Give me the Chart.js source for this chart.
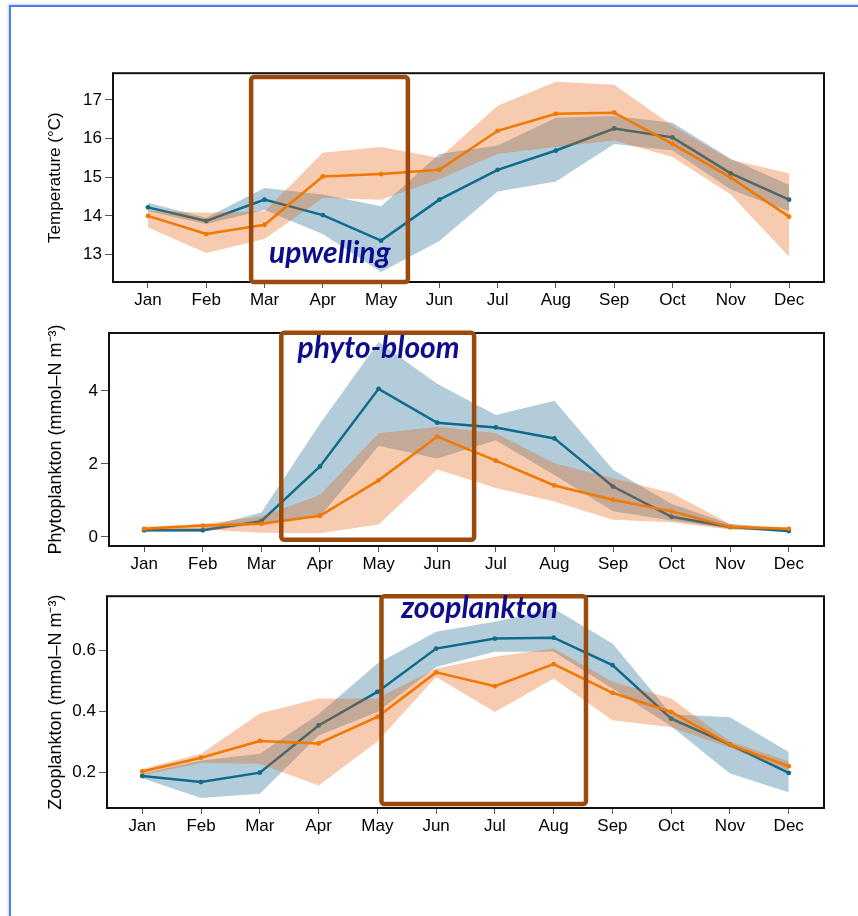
<!DOCTYPE html>
<html>
<head>
<meta charset="utf-8">
<script src="https://cdn.jsdelivr.net/npm/chart.js@4.4.0/dist/chart.umd.min.js"></script>
<style>
    body { margin: 0; width: 858px; height: 916px; background: #fff; position: relative; overflow: hidden; }
    .frame { position: absolute; left: 9px; top: 5px; width: 900px; height: 950px;
             border-left: 2px solid #4a7cf6; border-top: 2px solid #4a7cf6; box-shadow: -1px -1px 2px #c8d4f0; }
    canvas { position: absolute; left: 36px; }
</style>
</head>
<body>
<div class="frame"></div>
<canvas id="tempChart" width="804" height="252" style="top:60px"></canvas>
<canvas id="phytoChart" width="804" height="258" style="top:318px"></canvas>
<canvas id="zooChart" width="804" height="255" style="top:583px"></canvas>

<script>
// Month labels
const months = ['Jan', 'Feb', 'Mar', 'Apr', 'May', 'Jun', 'Jul', 'Aug', 'Sep', 'Oct', 'Nov', 'Dec'];

// Temperature (°C)
const tempBlue     = [14.22, 13.87, 14.42, 14.02, 13.36, 14.42, 15.19, 15.69, 16.26, 16.03, 15.10, 14.42];
const tempBlueHi   = [14.34, 13.95, 14.72, 14.55, 14.25, 15.60, 15.82, 16.54, 16.58, 16.41, 15.48, 14.80];
const tempBlueLo   = [14.12, 13.79, 14.15, 13.53, 12.55, 13.35, 14.63, 14.89, 15.86, 15.69, 14.68, 14.12];
const tempOrange   = [14.00, 13.53, 13.77, 15.02, 15.08, 15.19, 16.20, 16.64, 16.67, 15.86, 14.99, 13.98];
const tempOrangeHi = [14.14, 14.08, 14.12, 15.63, 15.78, 15.50, 16.85, 17.47, 17.39, 16.33, 15.45, 15.10];
const tempOrangeLo = [13.70, 13.04, 13.40, 14.46, 14.42, 14.95, 15.61, 15.78, 15.95, 15.52, 14.55, 12.94];
const tempTicks    = [13, 14, 15, 16, 17];

// Phytoplankton (mmol-N m-3)
const phytoBlue     = [0.18, 0.18, 0.43, 1.93, 4.06, 3.13, 3.00, 2.70, 1.38, 0.55, 0.27, 0.16];
const phytoBlueHi   = [0.22, 0.25, 0.67, 3.10, 5.34, 4.20, 3.34, 3.73, 1.84, 0.90, 0.35, 0.20];
const phytoBlueLo   = [0.14, 0.15, 0.36, 0.56, 2.50, 2.15, 2.65, 1.70, 0.70, 0.45, 0.22, 0.13];
const phytoOrange   = [0.22, 0.31, 0.36, 0.58, 1.55, 2.75, 2.09, 1.41, 1.02, 0.70, 0.27, 0.22];
const phytoOrangeHi = [0.28, 0.35, 0.56, 1.15, 2.84, 3.02, 2.84, 2.02, 1.61, 1.20, 0.35, 0.25];
const phytoOrangeLo = [0.16, 0.20, 0.11, 0.10, 0.34, 1.85, 1.34, 0.97, 0.47, 0.40, 0.20, 0.18];
const phytoTicks    = [0, 2, 4];

// Zooplankton (mmol-N m-3)
const zooBlue     = [0.187, 0.167, 0.198, 0.353, 0.463, 0.605, 0.638, 0.641, 0.551, 0.375, 0.290, 0.197];
const zooBlueHi   = [0.195, 0.238, 0.260, 0.390, 0.556, 0.660, 0.693, 0.737, 0.622, 0.390, 0.380, 0.266];
const zooBlueLo   = [0.180, 0.115, 0.129, 0.320, 0.397, 0.545, 0.595, 0.595, 0.474, 0.350, 0.195, 0.134];
const zooOrange   = [0.202, 0.247, 0.302, 0.294, 0.381, 0.527, 0.482, 0.554, 0.460, 0.397, 0.290, 0.219];
const zooOrangeHi = [0.210, 0.260, 0.392, 0.441, 0.441, 0.540, 0.578, 0.605, 0.496, 0.441, 0.300, 0.235];
const zooOrangeLo = [0.190, 0.230, 0.227, 0.156, 0.300, 0.512, 0.397, 0.507, 0.370, 0.347, 0.280, 0.205];
const zooTicks    = [0.2, 0.4, 0.6];

// Colours
const BLUE = '#0f6a8b';
const ORANGE = '#f07800';
const BLUE_BAND = 'rgba(17, 96, 140, 0.32)';
const ORANGE_BAND = 'rgba(230, 93, 8, 0.32)';
const BOX_BROWN = '#9a4a0c';
const NOTE_BLUE = '#0c0c8c';

const pts = arr => arr.map((v, i) => ({ x: i, y: v }));

// Frame + highlight box + note text
const framePlugin = {
    id: 'frame',
    afterDraw(chart) {
        const { ctx, chartArea: a, scales } = chart;
        const opt = chart.options.plugins.frame;
        ctx.save();
        ctx.strokeStyle = '#111';
        ctx.lineWidth = 2;
        ctx.strokeRect(a.left, a.top, a.right - a.left, a.bottom - a.top);

        // highlight box
        const b = opt.box;
        const x0 = scales.x.getPixelForValue(b.x0), x1 = scales.x.getPixelForValue(b.x1);
        const y0 = scales.y.getPixelForValue(b.y0), y1 = scales.y.getPixelForValue(b.y1);
        ctx.strokeStyle = BOX_BROWN;
        ctx.lineWidth = 4.5;
        ctx.lineJoin = 'round';
        ctx.beginPath();
        ctx.roundRect(x0, y0, x1 - x0, y1 - y0, 3);
        ctx.stroke();

        // note
        const n = opt.note;
        ctx.fillStyle = NOTE_BLUE;
        ctx.font = 'italic bold 30px Lato, "Open Sans", sans-serif';
        ctx.textAlign = 'center';
        ctx.textBaseline = 'alphabetic';
        ctx.fillText(n.text, scales.x.getPixelForValue(n.x), scales.y.getPixelForValue(n.y));
        ctx.restore();
    }
};

function createPanel(canvasId, s) {
    const ctx = document.getElementById(canvasId);
    if (!ctx) return null;

    const lineSet = (vals, color, order) => ({
        data: pts(vals), borderColor: color, backgroundColor: color,
        borderWidth: 2.5, pointRadius: 2.4, pointBorderWidth: 0, fill: false, order: order
    });
    const bandSet = (vals, fill, color, order) => ({
        data: pts(vals), borderColor: 'transparent', borderWidth: 0, pointRadius: 0,
        backgroundColor: color, fill: fill, order: order
    });

    return new Chart(ctx, {
        type: 'line',
        data: {
            datasets: [
                lineSet(s.orange, ORANGE, 0),
                bandSet(s.orangeHi, '+1', ORANGE_BAND, 1),
                bandSet(s.orangeLo, false, ORANGE_BAND, 1),
                lineSet(s.blue, BLUE, 2),
                bandSet(s.blueHi, '+1', BLUE_BAND, 3),
                bandSet(s.blueLo, false, BLUE_BAND, 3)
            ]
        },
        options: {
            responsive: false,
            animation: false,
            devicePixelRatio: 1,
            layout: { padding: { top: s.padTop, right: 16, left: 0, bottom: 0 } },
            elements: { line: { tension: 0 } },
            plugins: {
                legend: { display: false },
                tooltip: { enabled: false },
                frame: { box: s.box, note: s.note }
            },
            scales: {
                x: {
                    type: 'linear',
                    min: -0.6,
                    max: 11.6,
                    afterBuildTicks: sc => { sc.ticks = months.map((m, i) => ({ value: i })); },
                    afterFit: sc => { sc.height = 30; },
                    border: { display: false },
                    grid: { drawOnChartArea: false, drawTicks: true, tickLength: 6, color: '#555' },
                    ticks: {
                        autoSkip: false, maxRotation: 0, padding: 2, color: '#000',
                        font: { family: '"Liberation Sans", Arial, sans-serif', size: 17 },
                        callback: v => months[v]
                    }
                },
                y: {
                    min: s.yMin,
                    max: s.yMax,
                    afterBuildTicks: sc => { sc.ticks = s.ticks.map(v => ({ value: v })); },
                    afterFit: sc => { sc.width = s.axisW; },
                    border: { display: false },
                    grid: { drawOnChartArea: false, drawTicks: true, tickLength: 8, color: '#555' },
                    ticks: {
                        padding: 3, color: '#000',
                        font: { family: '"Liberation Sans", Arial, sans-serif', size: 17 },
                        callback: s.fmt
                    },
                    title: {
                        display: true, text: s.title, color: '#000',
                        padding: { top: 9, bottom: 0 },
                        font: { family: '"Liberation Sans", Arial, sans-serif', size: s.titleSize }
                    }
                }
            }
        },
        plugins: [framePlugin]
    });
}

createPanel('tempChart', {
    blue: tempBlue, blueHi: tempBlueHi, blueLo: tempBlueLo,
    orange: tempOrange, orangeHi: tempOrangeHi, orangeLo: tempOrangeLo,
    ticks: tempTicks, fmt: v => String(v),
    yMin: 12.29, yMax: 17.69, padTop: 10, axisW: 77,
    title: 'Temperature (°C)', titleSize: 17,
    box: { x0: 1.77, x1: 4.46, y0: 17.59, y1: 12.29 },
    note: { text: 'upwelling', x: 3.12, y: 12.78 }
});

createPanel('phytoChart', {
    blue: phytoBlue, blueHi: phytoBlueHi, blueLo: phytoBlueLo,
    orange: phytoOrange, orangeHi: phytoOrangeHi, orangeLo: phytoOrangeLo,
    ticks: phytoTicks, fmt: v => String(v),
    yMin: -0.25, yMax: 5.59, padTop: 15, axisW: 73,
    title: 'Phytoplankton (mmol\u2013N m\u207B\u00B3)', titleSize: 18,
    box: { x0: 2.34, x1: 5.63, y0: 5.6, y1: -0.08 },
    note: { text: 'phyto-bloom', x: 4.0, y: 4.9 }
});

createPanel('zooChart', {
    blue: zooBlue, blueHi: zooBlueHi, blueLo: zooBlueLo,
    orange: zooOrange, orangeHi: zooOrangeHi, orangeLo: zooOrangeLo,
    ticks: zooTicks, fmt: v => v.toFixed(1),
    yMin: 0.082, yMax: 0.777, padTop: 13, axisW: 71,
    title: 'Zooplankton (mmol\u2013N m\u207B\u00B3)', titleSize: 18,
    box: { x0: 4.07, x1: 7.55, y0: 0.777, y1: 0.095 },
    note: { text: 'zooplankton', x: 5.74, y: 0.705 }
});
</script>
</body>
</html>
